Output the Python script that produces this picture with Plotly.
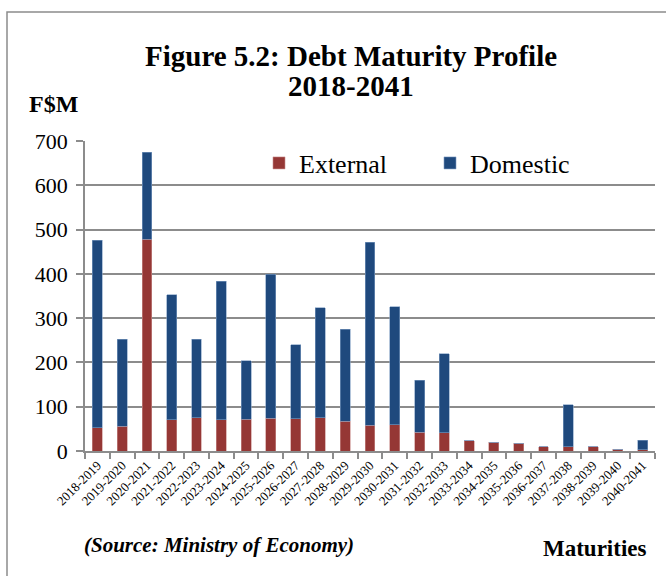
import plotly.graph_objects as go

# Fiscal-year maturity buckets (F$M)
periods = [
    "2018-2019", "2019-2020", "2020-2021", "2021-2022", "2022-2023", "2023-2024",
    "2024-2025", "2025-2026", "2026-2027", "2027-2028", "2028-2029", "2029-2030",
    "2030-2031", "2031-2032", "2032-2033", "2033-2034", "2034-2035", "2035-2036",
    "2036-2037", "2037-2038", "2038-2039", "2039-2040", "2040-2041",
]
external = [53, 56, 478, 71, 75, 71, 72, 74, 73, 75, 67, 58,
            59, 42, 41, 23, 20, 17, 10, 10, 10, 4, 3]
domestic = [423, 196, 197, 282, 177, 312, 132, 325, 167, 248, 208, 413,
            267, 118, 179, 0, 0, 0, 0, 95, 0, 0, 21]
y_ticks = [0, 100, 200, 300, 400, 500, 600, 700]

W, H = 666, 576
L, R, T, B = 85, 11, 141, 125
PW, PH = W - L - R, H - T - B


def px(x):
    return (x - L) / PW


def py(y):
    return (H - B - y) / PH


SERIF = "Liberation Serif, Times New Roman, serif"
RED = "#953735"
BLUE = "#1F497D"
GRID = "#8c8c8c"

fig = go.Figure()
fig.add_trace(go.Bar(
    x=periods, y=external, name="External",
    marker=dict(color=RED, line=dict(color="#c98f8d", width=0.6)),
))
fig.add_trace(go.Bar(
    x=periods, y=domestic, name="Domestic",
    marker=dict(color=BLUE, line=dict(color="#7f9cc2", width=0.6)),
))

fig.update_layout(
    width=W, height=H,
    margin=dict(l=L, r=R, t=T, b=B, autoexpand=False),
    barmode="stack", bargap=0.6,
    plot_bgcolor="white", paper_bgcolor="white",
    font=dict(family=SERIF, color="black"),
    showlegend=True,
    legend=dict(
        orientation="h", x=px(259), y=py(163), xanchor="left", yanchor="middle",
        font=dict(size=26, family=SERIF), bgcolor="rgba(0,0,0,0)",
        entrywidth=126, entrywidthmode="pixels", traceorder="normal",
    ),
    xaxis=dict(
        type="category", showgrid=False, automargin=False,
        showline=True, linecolor=GRID, linewidth=1.5,
        ticks="outside", tickson="boundaries", ticklen=6, tickcolor=GRID, tickwidth=1.5,
        tickangle=-45, tickfont=dict(size=13, family=SERIF),
    ),
    yaxis=dict(
        range=[0, 700], tickvals=y_ticks, automargin=False,
        showgrid=True, gridcolor=GRID, gridwidth=1.5,
        showline=True, linecolor=GRID, linewidth=1.5,
        ticks="outside", ticklen=7, tickcolor=GRID, tickwidth=1.5,
        tickfont=dict(size=22, family=SERIF), ticklabelstandoff=4,
        zeroline=False,
    ),
)

# frame around the chart
fig.add_shape(
    type="rect", xref="paper", yref="paper",
    x0=px(7), y0=py(H + 20), x1=px(W + 20), y1=py(12),
    line=dict(color=GRID, width=1.5), fillcolor="rgba(0,0,0,0)", layer="below",
)

texts = [
    ("<b>Figure 5.2: Debt Maturity Profile</b>", 351, 56, 29, "center"),
    ("<b>2018-2041</b>", 351, 86, 29, "center"),
    ("<b>F$M</b>", 27, 104, 24, "left"),
    ("<b><i>(Source: Ministry of Economy)</i></b>", 82, 545, 21, "left"),
    ("<b>Maturities</b>", 649, 548, 23, "right"),
]
for txt, x, y, size, anchor in texts:
    fig.add_annotation(
        text=txt, xref="paper", yref="paper", x=px(x), y=py(y),
        xanchor=anchor, yanchor="middle", showarrow=False,
        font=dict(size=size, family=SERIF, color="black"),
    )

fig.write_html("out.html")
